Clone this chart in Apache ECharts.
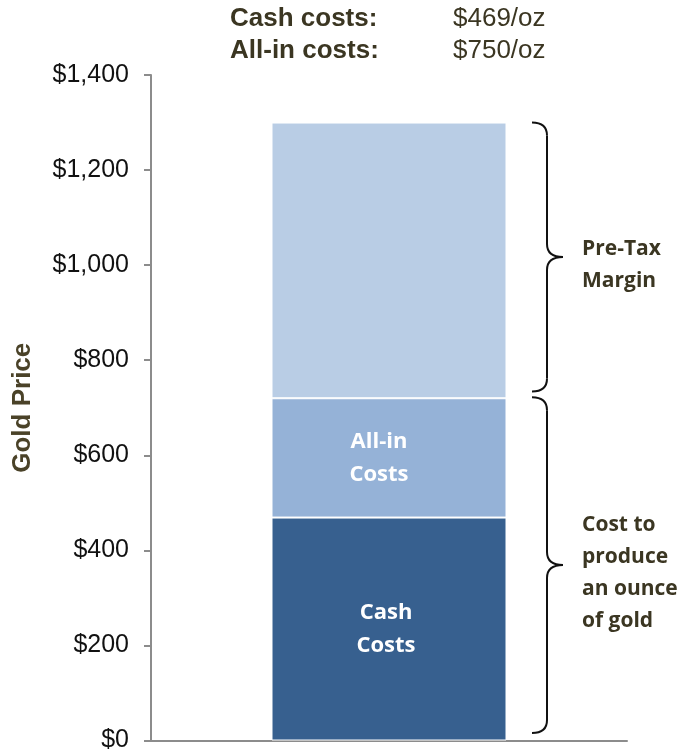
<!DOCTYPE html>
<html>
<head>
<meta charset="utf-8">
<script src="https://cdn.jsdelivr.net/npm/echarts@6/dist/echarts.min.js"></script>
<style>
  html, body { margin: 0; padding: 0; background: #fff; }
  #main { width: 683px; height: 753px; }
</style>
</head>
<body>
<div id="main"></div>
<script>
// values ($/oz)
const categories = ['Gold'];
const cashCosts = [469];
const allInCosts = [251];     // stacked on cash costs, top ~720
const preTaxMargin = [580];   // stacked on top, gold price ~1300
const braceRanges = [[1300, 734], [722, 16]];
const braceLabels = ['Pre-Tax\nMargin', 'Cost to\nproduce\nan ounce\nof gold'];
const headerNames = ['Cash costs:', 'All-in costs:'];
const headerValues = ['$469/oz', '$750/oz'];

const darkText = '#3b3622';
const chart = echarts.init(document.getElementById('main'));

function braceItem(params, api) {
  const top = api.coord([api.value(0), api.value(1)]);
  const bot = api.coord([api.value(0), api.value(2)]);
  const xL = top[0] + 143, xM = top[0] + 158, xT = top[0] + 174;
  const y1 = top[1], y2 = bot[1], ym = (y1 + y2) / 2, r = 13;
  const st = { stroke: '#111', lineWidth: 2, fill: null };
  return {
    type: 'group',
    children: [
      { type: 'bezierCurve', shape: { x1: xL, y1: y1, cpx1: xM, cpy1: y1, x2: xM, y2: y1 + r }, style: st },
      { type: 'line', shape: { x1: xM, y1: y1 + r, x2: xM, y2: ym - r }, style: st },
      { type: 'bezierCurve', shape: { x1: xM, y1: ym - r, cpx1: xM, cpy1: ym, x2: xT, y2: ym }, style: st },
      { type: 'bezierCurve', shape: { x1: xT, y1: ym, cpx1: xM, cpy1: ym, x2: xM, y2: ym + r }, style: st },
      { type: 'line', shape: { x1: xM, y1: ym + r, x2: xM, y2: y2 - r }, style: st },
      { type: 'bezierCurve', shape: { x1: xM, y1: y2 - r, cpx1: xM, cpy1: y2, x2: xL, y2: y2 }, style: st },
      {
        type: 'text',
        x: xT + 19, y: ym + 8,
        style: {
          text: braceLabels[params.dataIndex],
          fill: darkText, font: 'bold 21px "Open Sans"',
          lineHeight: 32, verticalAlign: 'middle', align: 'left'
        }
      }
    ]
  };
}

const option = {
  animation: false,
  grid: { left: 151, right: 56, top: 75, bottom: 12 },
  graphic: headerNames.map((t, i) => ({
    type: 'text', left: 230, top: 6 + i * 32,
    style: { text: t, fill: darkText, font: 'bold 26px "Liberation Sans"' }
  })).concat(headerValues.map((t, i) => ({
    type: 'text', left: 453, top: 6 + i * 32,
    style: { text: t, fill: darkText, font: '26px "Liberation Sans"' }
  }))),
  xAxis: {
    type: 'category',
    data: categories,
    axisLine: { lineStyle: { color: '#8c8c8c', width: 2 } },
    axisTick: { show: false },
    axisLabel: { show: false }
  },
  yAxis: {
    type: 'value',
    min: 0, max: 1400, interval: 200,
    name: 'Gold Price',
    nameLocation: 'middle',
    nameGap: 115,
    nameTextStyle: { fontFamily: 'Liberation Sans', fontWeight: 'bold', fontSize: 26, color: '#4a4228' },
    axisLine: { show: true, lineStyle: { color: '#8c8c8c', width: 2 } },
    axisTick: { show: true, length: 7, lineStyle: { color: '#8c8c8c', width: 2 } },
    splitLine: { show: false },
    axisLabel: {
      margin: 22,
      fontFamily: 'Liberation Sans', fontSize: 25, color: '#111',
      formatter: v => '$' + v.toLocaleString('en-US')
    }
  },
  series: [
    {
      name: 'Cash Costs', type: 'bar', stack: 'total', barWidth: 235,
      data: cashCosts,
      itemStyle: { color: '#37608f', borderColor: '#fff', borderWidth: 1 },
      label: {
        show: true, position: 'inside', formatter: 'Cash\nCosts', offset: [-3, 0],
        color: '#fff', fontFamily: 'Open Sans', fontWeight: 'bold', fontSize: 22, lineHeight: 33
      }
    },
    {
      name: 'All-in Costs', type: 'bar', stack: 'total', barWidth: 235,
      data: allInCosts,
      itemStyle: { color: '#95b2d7', borderColor: '#fff', borderWidth: 1 },
      label: {
        show: true, position: 'inside', formatter: 'All-in\nCosts', offset: [-10, 0],
        color: '#fff', fontFamily: 'Open Sans', fontWeight: 'bold', fontSize: 22, lineHeight: 33
      }
    },
    {
      name: 'Pre-Tax Margin', type: 'bar', stack: 'total', barWidth: 235,
      data: preTaxMargin,
      itemStyle: { color: '#b9cde5', borderColor: '#fff', borderWidth: 1 }
    },
    {
      type: 'custom',
      silent: true,
      clip: false,
      renderItem: braceItem,
      encode: { x: 0, y: [1, 2] },
      data: braceRanges.map(r => [0, r[0], r[1]])
    }
  ]
};

chart.setOption(option);
</script>
</body>
</html>
